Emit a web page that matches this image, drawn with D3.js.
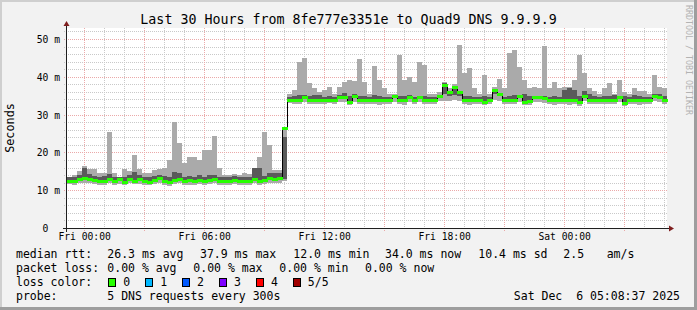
<!DOCTYPE html>
<html>
<head>
<meta charset="utf-8">
<script src="https://cdn.jsdelivr.net/npm/d3@7"></script>
<style>
  body { margin: 0; background: #f2f2f2; }
  svg { display: block; font-family: "DejaVu Sans Mono", monospace; }
  text { white-space: pre; }
</style>
</head>
<body>
<svg id="chart" width="697" height="310"></svg>
<script>
"use strict";

// ---- data ----
const title = "Last 30 Hours from 8fe777e3351e to Quad9 DNS 9.9.9.9";
const t_start = new Date(2025, 11, 4, 23, 8, 37);
const step_minutes = 15;

// median rtt per 15 min bucket (ms)
const median = [
  12.3, 12.3, 12.9, 13.1, 13.0, 12.6, 12.3, 12.3, 13.0, 12.4,
  12.9, 12.2, 13.0, 12.5, 12.9, 12.3, 12.2, 12.7, 13.3, 12.5,
  12.2, 12.7, 12.9, 12.4, 12.6, 12.3, 12.8, 12.4, 12.6, 12.9,
  12.4, 12.5, 12.3, 12.6, 12.4, 12.3, 12.5, 12.9, 12.4, 12.7,
  13.2, 13.0, 13.1, 26.5,
  33.9, 33.8, 33.9, 34.6, 33.9, 33.8, 33.9, 33.8, 33.9, 33.9,
  34.7, 34.7, 33.4, 34.9, 33.9, 33.8, 33.9, 33.9, 33.8, 33.9,
  33.9, 35.0, 33.9, 33.8, 34.6, 33.9, 34.6, 33.9, 33.8, 33.9,
  35.0, 37.8, 35.9, 37.4, 35.9, 33.9, 33.8, 33.9, 33.9, 33.4,
  33.9, 36.5, 35.5, 33.9, 33.8, 33.9, 34.9, 33.4, 33.5, 34.6,
  34.6, 34.4, 33.9, 33.8, 33.9, 33.9, 33.8, 33.9, 33.4, 35.0,
  33.9, 33.9, 33.8, 33.9, 33.9, 33.8, 34.6, 33.0, 33.9, 33.9,
  33.8, 33.9, 33.9, 35.0, 34.6, 33.9
];

// sorted pings: lowest, 2nd, 4th, highest (ms)
const ping1 = [
  11.6, 11.5, 11.8, 12.0, 11.9, 11.6, 11.4, 11.5, 11.9, 11.4,
  11.7, 11.3, 11.8, 11.6, 11.7, 11.4, 11.3, 11.6, 12.0, 11.5,
  11.2, 11.6, 11.8, 11.4, 11.5, 11.3, 11.6, 11.4, 11.6, 11.8,
  11.5, 11.5, 11.4, 11.6, 11.5, 11.4, 11.5, 11.8, 11.4, 11.6,
  12.0, 11.8, 11.9, 12.4,
  33.0, 32.8, 32.7, 33.2, 32.9, 32.7, 32.8, 32.9, 33.0, 32.8,
  33.3, 33.2, 32.5, 33.4, 32.8, 32.7, 32.9, 32.8, 32.6, 32.8,
  32.9, 33.4, 32.7, 32.6, 33.2, 32.9, 33.3, 32.8, 32.7, 32.9,
  33.5, 33.6, 33.6, 33.8, 33.5, 32.8, 32.6, 32.9, 32.8, 32.5,
  32.9, 33.8, 33.6, 32.8, 32.7, 32.9, 33.4, 32.5, 32.6, 33.3,
  33.3, 33.1, 32.8, 32.6, 32.9, 32.8, 32.6, 32.8, 32.3, 33.5,
  32.8, 32.9, 32.7, 32.8, 32.9, 32.7, 33.2, 32.2, 32.8, 32.9,
  32.6, 32.8, 32.8, 33.5, 33.2, 32.7
];
const ping2 = [
  12.1, 12.2, 12.7, 12.9, 12.8, 12.4, 12.1, 12.2, 12.8, 12.2,
  12.7, 12.0, 12.8, 12.3, 12.7, 12.1, 12.0, 12.5, 13.1, 12.3,
  12.0, 12.5, 12.7, 12.2, 12.4, 12.1, 12.6, 12.2, 12.4, 12.7,
  12.2, 12.3, 12.1, 12.4, 12.2, 12.1, 12.3, 12.7, 12.2, 12.5,
  13.0, 12.8, 12.9, 13.0,
  33.7, 33.6, 33.7, 34.3, 33.7, 33.6, 33.7, 33.6, 33.7, 33.7,
  34.4, 34.4, 33.2, 34.6, 33.7, 33.6, 33.7, 33.7, 33.6, 33.7,
  33.7, 34.7, 33.7, 33.6, 34.3, 33.7, 34.3, 33.7, 33.6, 33.7,
  34.7, 35.5, 35.0, 35.2, 35.0, 33.7, 33.6, 33.7, 33.7, 33.2,
  33.7, 35.4, 34.8, 33.7, 33.6, 33.7, 34.6, 33.2, 33.3, 34.3,
  34.3, 34.1, 33.7, 33.6, 33.7, 33.7, 33.6, 33.7, 33.1, 34.6,
  33.7, 33.7, 33.6, 33.7, 33.7, 33.6, 34.3, 32.8, 33.7, 33.7,
  33.6, 33.7, 33.7, 34.7, 34.3, 33.7
];
const ping4 = [
  13.4, 13.6, 14.0, 16.0, 14.2, 13.8, 13.5, 13.7, 14.2, 13.6,
  13.5, 13.5, 14.1, 14.9, 13.9, 13.4, 13.5, 13.8, 14.1, 13.7,
  13.5, 14.9, 14.5, 13.6, 13.8, 13.5, 14.0, 13.6, 14.0, 13.9,
  13.5, 13.6, 13.4, 13.7, 13.5, 13.4, 13.6, 15.8, 15.8, 13.8,
  14.5, 14.5, 14.6, 24.0,
  34.6, 34.9, 35.2, 35.3, 34.8, 35.2, 35.2, 34.7, 34.9, 34.6,
  35.3, 35.6, 34.8, 35.4, 34.9, 34.8, 34.6, 35.2, 34.8, 34.7,
  34.6, 35.3, 34.9, 34.8, 35.1, 34.7, 35.0, 34.9, 34.6, 34.7,
  35.3, 38.3, 36.2, 37.6, 36.3, 34.9, 35.0, 34.7, 34.6, 34.9,
  34.6, 36.8, 35.8, 34.7, 34.9, 35.3, 35.2, 35.5, 34.8, 35.0,
  34.9, 34.8, 34.7, 34.8, 34.6, 36.5, 37.0, 36.6, 34.8, 36.2,
  35.4, 34.8, 34.7, 35.0, 34.9, 35.3, 35.0, 34.8, 34.7, 35.2,
  34.8, 34.7, 34.6, 35.5, 35.4, 34.8
];
const ping5 = [
  13.5, 14.0, 15.0, 16.5, 15.5, 15.6, 14.5, 14.5, 25.5, 14.5,
  13.6, 15.5, 15.0, 19.3, 15.5, 14.5, 14.5, 15.3, 15.6, 16.0,
  18.0, 28.0, 22.5, 17.2, 18.9, 18.9, 18.0, 20.5, 20.6, 24.3,
  16.0, 14.0, 14.0, 14.2, 14.0, 14.5, 14.2, 16.0, 18.9, 25.5,
  22.0, 15.3, 15.3, 26.0,
  35.5, 36.5, 44.0, 44.9, 38.3, 37.0, 36.0, 36.5, 37.4, 35.5,
  37.4, 38.5, 39.2, 39.0, 44.7, 38.5, 35.5, 42.9, 39.2, 37.0,
  35.5, 35.5, 45.8, 39.2, 40.0, 38.7, 44.0, 43.1, 35.5, 35.5,
  36.0, 38.6, 37.0, 38.0, 48.4, 40.9, 42.2, 37.0, 35.5, 40.5,
  35.5, 37.2, 39.3, 37.0, 46.2, 47.1, 42.7, 39.2, 37.0, 37.2,
  37.0, 48.1, 37.0, 38.5, 37.0, 37.4, 37.4, 39.2, 45.8, 40.9,
  37.0, 36.2, 35.5, 37.0, 38.3, 35.5, 39.2, 36.0, 35.5, 37.0,
  36.2, 36.2, 35.5, 40.5, 37.4, 37.0
];

const y_ticks = [0, 10, 20, 30, 40, 50];
const y_tick_labels = ["0  ", "10 m", "20 m", "30 m", "40 m", "50 m"];
const loss_labels = ["0", "1", "2", "3", "4", "5/5"];
const loss_colors = ["#26ff00", "#00b8ff", "#0059ff", "#7e00ff", "#ff0000", "#a00000"];
const rtt_stats = ["26.3 ms avg", "37.9 ms max", "12.0 ms min", "34.0 ms now", "10.4 ms sd", "2.5", "am/s"];
const loss_stats = ["0.00 % avg", "0.00 % max", "0.00 % min", "0.00 % now"];
const probe_text = "5 DNS requests every 300s";
const stamp_text = "Sat Dec  6 05:08:37 2025";

// ---- layout ----
const W = 697, H = 310;
const plot_l = 67, plot_r = 667, plot_t = 28, plot_b = 228;
const rtt_x = [107.3, 200, 293.3, 385, 478.3, 563.3, 606.7];
const loss_x = [107.3, 193.3, 279.3, 365];

const svg = d3.select("#chart");

svg.append("rect").attr("width", W).attr("height", H).attr("fill", "#f2f2f2");
// 3d frame
svg.append("rect").attr("x", 0).attr("y", 0).attr("width", W).attr("height", 2).attr("fill", "#cfcfcf");
svg.append("rect").attr("x", 0).attr("y", 0).attr("width", 2).attr("height", H).attr("fill", "#cfcfcf");
svg.append("rect").attr("x", 0).attr("y", H - 3).attr("width", W).attr("height", 3).attr("fill", "#9e9e9e");
svg.append("rect").attr("x", W - 3).attr("y", 0).attr("width", 3).attr("height", H).attr("fill", "#9e9e9e");

// canvas
svg.append("rect").attr("x", plot_l).attr("y", plot_t)
  .attr("width", plot_r - plot_l).attr("height", plot_b - plot_t).attr("fill", "#ffffff");

const t_end = d3.timeMinute.offset(t_start, step_minutes * median.length);
const bucket_t = median.map((d, i) => d3.timeMinute.offset(t_start, step_minutes * i));

const x_scale = d3.scaleTime().domain([t_start, t_end]).range([plot_l, plot_r]);
const y_scale = d3.scaleLinear().domain([0, 52.9]).range([plot_b, plot_t]);

// grid
const grid = svg.append("g").attr("shape-rendering", "crispEdges");
const hours = d3.timeHour.every(1).range(t_start, t_end);
const minor_c = "#c9c9c9", major_c = "#eba9a9";

grid.selectAll(".hgrid").data(d3.range(2, 53, 2).filter(v => v % 10 != 0)).enter().append("line")
  .attr("x1", plot_l - 3).attr("x2", plot_r)
  .attr("y1", d => Math.round(y_scale(d)) + 0.5).attr("y2", d => Math.round(y_scale(d)) + 0.5)
  .attr("stroke", minor_c).attr("stroke-dasharray", "1,1");
grid.selectAll(".vgrid").data(hours.filter(d => d.getHours() % 3 != 0)).enter().append("line")
  .attr("x1", d => Math.round(x_scale(d)) + 0.5).attr("x2", d => Math.round(x_scale(d)) + 0.5)
  .attr("y1", plot_t).attr("y2", plot_b + 2)
  .attr("stroke", minor_c).attr("stroke-dasharray", "1,1");
grid.selectAll(".hmgrid").data(y_ticks.slice(1)).enter().append("line")
  .attr("x1", plot_l - 3).attr("x2", plot_r)
  .attr("y1", d => Math.round(y_scale(d)) + 0.5).attr("y2", d => Math.round(y_scale(d)) + 0.5)
  .attr("stroke", major_c).attr("stroke-dasharray", "1,1");
grid.selectAll(".vmgrid").data(hours.filter(d => d.getHours() % 3 == 0)).enter().append("line")
  .attr("x1", d => Math.round(x_scale(d)) + 0.5).attr("x2", d => Math.round(x_scale(d)) + 0.5)
  .attr("y1", plot_t).attr("y2", plot_b + 3)
  .attr("stroke", major_c).attr("stroke-dasharray", "1,1");

// smoke
const smoke = svg.append("g").attr("shape-rendering", "crispEdges");
const bx = i => x_scale(bucket_t[i]);
const bw = i => x_scale(d3.timeMinute.offset(bucket_t[i], step_minutes)) - x_scale(bucket_t[i]);

smoke.selectAll(".outer").data(median).enter().append("rect")
  .attr("x", (d, i) => bx(i)).attr("width", (d, i) => bw(i))
  .attr("y", (d, i) => y_scale(ping5[i]))
  .attr("height", (d, i) => y_scale(ping1[i]) - y_scale(ping5[i]))
  .attr("fill", "#aaaaaa");
smoke.selectAll(".inner").data(median).enter().append("rect")
  .attr("x", (d, i) => bx(i)).attr("width", (d, i) => bw(i))
  .attr("y", (d, i) => y_scale(ping4[i]))
  .attr("height", (d, i) => y_scale(ping2[i]) - y_scale(ping4[i]))
  .attr("fill", "#5a5a5a");

// median: black step line + green loss-coloured bars
const med_pts = median.map((d, i) => [bucket_t[i], d]).concat([[t_end, median[median.length - 1]]]);
svg.append("path")
  .attr("d", d3.line().x(d => Math.round(x_scale(d[0])) + 0.5).y(d => Math.round(y_scale(d[1])) + 0.5).curve(d3.curveStepAfter)(med_pts))
  .attr("fill", "none").attr("stroke", "#000").attr("stroke-width", 1)
  .attr("shape-rendering", "crispEdges");
svg.append("g").attr("shape-rendering", "crispEdges").selectAll("rect").data(median).enter().append("rect")
  .attr("x", (d, i) => Math.round(bx(i))).attr("width", (d, i) => Math.round(bw(i)) + 1)
  .attr("y", d => Math.round(y_scale(d)) - 1).attr("height", 3)
  .attr("fill", loss_colors[0]);

// axes lines + arrows
svg.append("line").attr("x1", plot_l - 4).attr("x2", plot_r + 3)
  .attr("y1", plot_b + 0.5).attr("y2", plot_b + 0.5).attr("stroke", "#1f1f1f");
svg.append("line").attr("x1", plot_l - 0.5).attr("x2", plot_l - 0.5)
  .attr("y1", plot_b + 4).attr("y2", plot_t - 3).attr("stroke", "#1f1f1f");
svg.append("path").attr("d", `M${plot_r + 2},${plot_b - 2.5} L${plot_r + 7},${plot_b + 0.5} L${plot_r + 2},${plot_b + 3.5} Z`)
  .attr("fill", "#7f1f1f");
svg.append("path").attr("d", `M${plot_l - 3.5},${plot_t - 2} L${plot_l - 0.5},${plot_t - 7} L${plot_l + 2.5},${plot_t - 2} Z`)
  .attr("fill", "#7f1f1f");

// tick labels
const x_axis = svg.append("g").attr("transform", "translate(0," + plot_b + ")")
  .call(d3.axisBottom(x_scale).ticks(d3.timeHour.every(6)).tickFormat(d3.timeFormat("%a %H:%M")).tickSize(0).tickPadding(5));
x_axis.select(".domain").remove();
x_axis.selectAll("text").attr("font-family", "DejaVu Sans Mono").attr("font-size", "9.7px").attr("fill", "#000");

const y_axis = svg.append("g").attr("transform", "translate(" + plot_l + ",0)")
  .call(d3.axisLeft(y_scale).tickValues(y_ticks).tickFormat((d, i) => y_tick_labels[i]).tickSize(0).tickPadding(7));
y_axis.select(".domain").remove();
y_axis.selectAll("text").attr("font-family", "DejaVu Sans Mono").attr("font-size", "9.7px")
  .attr("fill", "#000").attr("dy", "0.36em");

// title and side labels
svg.append("text").attr("x", W / 2).attr("y", 23.5).attr("text-anchor", "middle")
  .attr("font-size", "13.3px").attr("fill", "#000").text(title);
svg.append("text").attr("transform", "translate(14," + (plot_t + plot_b) / 2 + ") rotate(-90)")
  .attr("text-anchor", "middle").attr("font-size", "11.8px").attr("fill", "#000").text("Seconds");
svg.append("text").attr("transform", "translate(685.5,5) rotate(90)")
  .attr("font-size", "8.3px").attr("fill", "#b3b3b3").text("RRDTOOL / TOBI OETIKER");

// legend
const lg = svg.append("g").attr("font-size", "11.5px").attr("fill", "#000");
lg.append("text").attr("x", 16).attr("y", 258).text("median rtt:");
lg.selectAll(".rtt").data(rtt_stats).enter().append("text")
  .attr("x", (d, i) => rtt_x[i]).attr("y", 258).text(d => d);
lg.append("text").attr("x", 16).attr("y", 272).text("packet loss:");
lg.selectAll(".loss").data(loss_stats).enter().append("text")
  .attr("x", (d, i) => loss_x[i]).attr("y", 272).text(d => d);
lg.append("text").attr("x", 16).attr("y", 286).text("loss color:");
lg.selectAll(".lbox").data(loss_colors).enter().append("rect")
  .attr("x", (d, i) => 108.5 + i * 37).attr("y", 278.5).attr("width", 7).attr("height", 8)
  .attr("fill", d => d).attr("stroke", "#000").attr("stroke-width", 1);
lg.selectAll(".llab").data(loss_labels).enter().append("text")
  .attr("x", (d, i) => 123.3 + i * 36.9).attr("y", 286).text(d => d);
lg.append("text").attr("x", 16).attr("y", 300).text("probe:");
lg.append("text").attr("x", 107.3).attr("y", 300).text(probe_text);
lg.append("text").attr("x", 680).attr("y", 300).attr("text-anchor", "end").text(stamp_text);
</script>
</body>
</html>
